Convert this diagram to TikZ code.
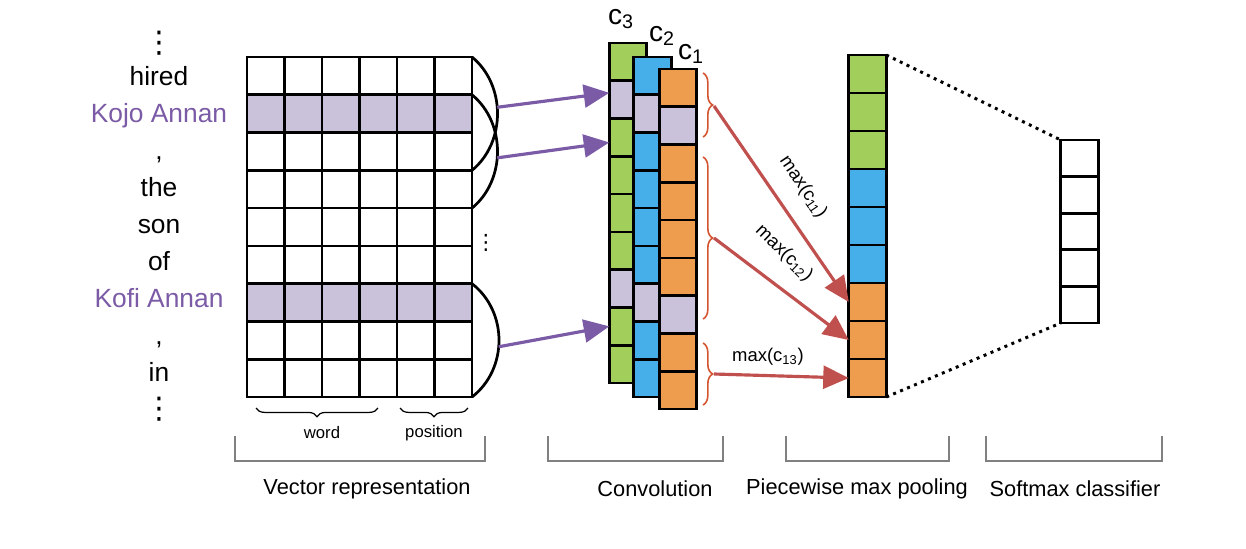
\documentclass[tikz,border=0pt]{standalone}
\usepackage{fontspec}
\setmainfont{Liberation Sans}
\newfontfamily\dotsfont{DejaVu Sans}
\usetikzlibrary{arrows.meta, decorations.pathreplacing}
\definecolor{cgreen}{HTML}{A2CF5B}
\definecolor{cblue}{HTML}{46AEE8}
\definecolor{corange}{HTML}{EE9C4E}
\definecolor{clav}{HTML}{CAC1DB}
\definecolor{cpurple}{HTML}{7B5AA6}
\definecolor{cred}{HTML}{C0504D}
\definecolor{cbrace}{HTML}{D4542F}
\tikzset{
    cell/.style = {draw, line width=1.55pt, minimum width=0.75cm, minimum height=0.756cm, inner sep=0pt, outer sep=0pt},
    token/.style = {font=\fontsize{15}{18}\selectfont, anchor=base},
    vdot/.style = {font={\dotsfont\fontsize{17}{17}\selectfont}},
    stage/.style = {font=\fontsize{12.4}{15}\selectfont},
    minor/.style = {font=\fontsize{9.5}{11}\selectfont},
    maxlab/.style = {font=\fontsize{10.5}{12}\selectfont},
    clab/.style = {font=\fontsize{16}{18}\selectfont},
    parrow/.style = {->, cpurple, line width=1.8pt},
    rarrow/.style = {->, cred, line width=1.8pt},
    rbrace/.style = {cbrace, line width=0.9pt, decorate, decoration={brace, amplitude=5.5pt}},
    bbrace/.style = {line width=0.7pt, decorate, decoration={brace, amplitude=5pt}},
    bracket/.style = {gray, line width=0.6pt},
    dotline/.style = {line width=1.7pt, dash pattern=on 1.7pt off 2.6pt}
}
\begin{document}
\begin{tikzpicture}[x=0.02cm, y=-0.02cm, >={Triangle[length=14.5pt, width=13pt]}]
    \useasboundingbox (0,0) rectangle (1246,548);
    \node[vdot] (dtop) at (159,43) {⋮};
    \foreach \t [count=\k] in {hired, {\color{cpurple}Kojo Annan}, {,}, the, son, of, {\color{cpurple}Kofi Annan}, {,}, in}
        \node[token] (w\k) at (159, 48+37.1*\k) {\t};
    \node[vdot] (dbot) at (159,409) {⋮};
    \foreach \r/\f in {1/white, 2/clav, 3/white, 4/white, 5/white, 6/white, 7/clav, 8/white, 9/white}
        \foreach \c in {1,...,6}
            \node[cell, fill=\f] (m-\r-\c) at (228.25+37.5*\c, 38.11+37.78*\r) {};
    \draw[line width=1.55pt] (m-1-6.north east) .. controls +(34,28) and +(34,-28) .. (m-3-6.south east) coordinate[pos=.45] (a1);
    \draw[line width=1.55pt] (m-2-6.north east) .. controls +(34,28) and +(34,-28) .. (m-4-6.south east) coordinate[pos=.55] (a2);
    \draw[line width=1.55pt] (m-7-6.north east) .. controls +(36,28) and +(36,-28) .. (m-9-6.south east) coordinate[pos=.55] (a3);
    \node[vdot, font={\dotsfont\fontsize{12}{12}\selectfont}] (mdots) at (486,243) {⋮};
    \draw[bbrace] (378,408) -- (256,408);
    \draw[bbrace] (468,408) -- (400,408);
    \node[minor] (wd) at (322,433) {word};
    \node[minor] (ps) at (434,433) {position};
    \foreach \n/\x/\y/\f in {3/628/24.1/cgreen, 2/652.5/38.1/cblue, 1/678/50.1/corange}
        \foreach \i in {1,...,9} {
            \ifnum\i=2 \def\fillc{clav}\else\ifnum\i=7 \def\fillc{clav}\else\let\fillc\f\fi\fi
            \node[cell, fill=\fillc] (c\n-\i) at (\x, \y+37.78*\i) {};
        }
    \node[clab] (n3) at (621,19) {c\textsubscript{3}};
    \node[clab] (n2) at (662,36) {c\textsubscript{2}};
    \node[clab] (n1) at (691,54) {c\textsubscript{1}};
    \draw[parrow] (a1) -- (c3-2.160);
    \draw[parrow] (a2) -- (c3-3.195);
    \draw[parrow] (a3) -- (c3-8.west);
    \foreach \i/\f in {1/cgreen, 2/cgreen, 3/cgreen, 4/cblue, 5/cblue, 6/cblue, 7/corange, 8/corange, 9/corange}
        \node[cell, fill=\f, minimum height=0.76cm] (p-\i) at (867.5, 36+38*\i) {};
    \foreach \i in {1,...,5}
        \node[cell, minimum height=0.732cm] (s-\i) at (1079.5, 121.7+36.6*\i) {};
    \draw[dotline] (p-1.north east) -- (s-1.north west);
    \draw[dotline] (p-9.south east) -- (s-5.south west);
    \draw[rbrace] (703,73) -- (703,137);
    \draw[rbrace] (703,157) -- (703,319);
    \draw[rbrace] (703,343) -- (703,405);
    \coordinate (b1) at (714,106);
    \coordinate (b2) at (714,238);
    \coordinate (b3) at (714,374);
    \draw[rarrow] (b1) -- (p-7.west);
    \draw[rarrow] (b2) -- (p-8.west);
    \draw[rarrow] (b3) -- (p-9.west);
    \node[maxlab, rotate=-56] (x1) at (803,187) {max(c\textsubscript{11})};
    \node[maxlab, rotate=-44] (x2) at (784,253) {max(c\textsubscript{12})};
    \node[maxlab] (x3) at (768,357) {max(c\textsubscript{13})};
    \foreach \a/\b in {235/485, 548/723, 786/949, 986/1162}
        \draw[bracket] (\a,436) |- (\b,461) -- (\b,436);
    \node[stage] (st1) at (367,489) {Vector representation};
    \node[stage] (st2) at (655,489) {Convolution};
    \node[stage] (st3) at (857,489) {Piecewise max pooling};
    \node[stage] (st4) at (1075,489) {Softmax classifier};
\end{tikzpicture}
\end{document}
